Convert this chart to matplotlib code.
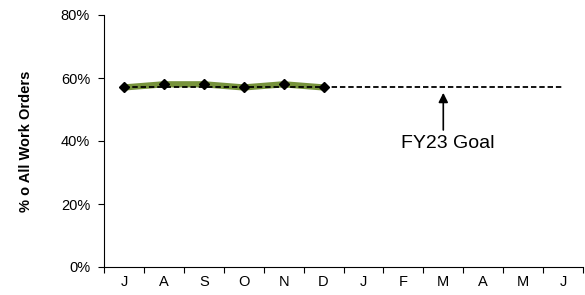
import matplotlib
matplotlib.use("Agg")
import matplotlib.pyplot as plt
import numpy as np

plt.rcParams['font.family'] = ['Liberation Sans', 'DejaVu Sans']

months = ["J", "A", "S", "O", "N", "D", "J", "F", "M", "A", "M", "J"]
actual = [57, 58, 58, 57, 58, 57]
goal = 57
goal_label = "FY23 Goal"
ylabel = "% o All Work Orders"

fig = plt.figure(figsize=(5.85, 2.95), dpi=100)
ax = fig.add_axes([104/585, 1-267/295, (583-104)/585, (267-15)/295])

x = np.arange(len(months))
ax.plot(x, [goal]*len(months), color='black', ls=(0, (3, 1.6)), lw=1.3, zorder=3)
xa = x[:len(actual)]
ax.plot(xa, actual, color='#77933C', lw=4.5, solid_capstyle='butt', zorder=2)
ax.plot(xa, actual, ls='none', marker='D', ms=5, color='black', zorder=4)

ax.set_xlim(-0.5, len(months)-0.5)
ax.set_ylim(0, 80)
ax.set_yticks([0, 20, 40, 60, 80])
ax.set_yticklabels([f"{v}%" for v in [0, 20, 40, 60, 80]], fontsize=10.5)
ax.set_xticks(x)
ax.set_xticklabels(months, fontsize=10.5)
ax.set_xticks(np.arange(-0.5, len(months)), minor=True)
ax.tick_params(axis='x', which='major', length=0, pad=6)
ax.tick_params(axis='x', which='minor', length=4, direction='out', width=0.8)
ax.tick_params(axis='y', length=4, direction='out', width=0.8, pad=6)
for s in ['top', 'right']:
    ax.spines[s].set_visible(False)
for s in ['left', 'bottom']:
    ax.spines[s].set_linewidth(0.8)

ax.annotate("", xy=(8, 55.3), xytext=(8, 43.5),
            arrowprops=dict(arrowstyle='-|>', color='black', lw=1.2, mutation_scale=14,
                            shrinkA=0, shrinkB=0))
ax.text(8.12, 39.2, goal_label, ha='center', va='center', fontsize=14)

ax.set_ylabel(ylabel, fontsize=10.5, fontweight='bold', labelpad=20)

fig.savefig("out.png", dpi=100)
